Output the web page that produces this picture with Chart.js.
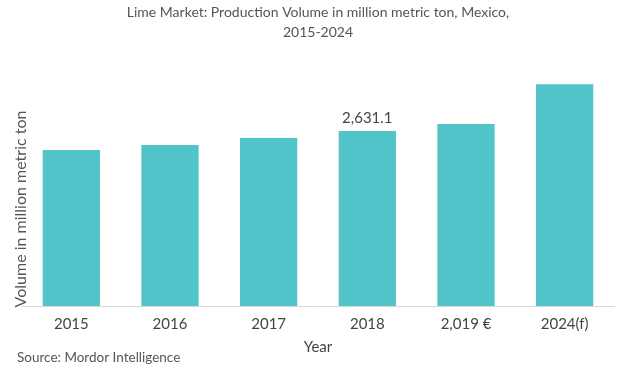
<!DOCTYPE html>
<html><head><meta charset="utf-8">
<script src="https://cdn.jsdelivr.net/npm/chart.js@4/dist/chart.umd.min.js"></script>
<style>html,body{margin:0;padding:0;background:#fff}#wrap{width:629px;height:385px;position:relative}</style>
</head><body><div id="wrap"><canvas id="c"></canvas></div>
<script>
const categories = ["2015", "2016", "2017", "2018", "2,019 €", "2024(f)"];
const volumes = [2347, 2422, 2527, 2631.1, 2736, 3334];
const labelledIndex = 3;
const labelText = "2,631.1";
const titleLines = ["Lime Market: Production Volume in million metric ton, Mexico,", "2015-2024"];
const yTitle = "Volume in million metric ton";
const xTitle = "Year";
const sourceText = "Source: Mordor Intelligence";

const FONT = "Lato, 'Open Sans', sans-serif";
const extras = {
  id: 'extras',
  afterDraw(chart) {
    const ctx = chart.ctx;
    const meta = chart.getDatasetMeta(0);
    const bar = meta.data[labelledIndex];
    const area = chart.chartArea;
    ctx.save();
    ctx.fillStyle = '#444';
    ctx.font = "15px " + FONT;
    ctx.textAlign = 'center';
    ctx.textBaseline = 'bottom';
    ctx.fillText(labelText, bar.x, bar.y - 5);
    ctx.textBaseline = 'middle';
    ctx.fillText(xTitle, (area.left + area.right) / 2, 347);
    ctx.translate(21, 209);
    ctx.rotate(-Math.PI / 2);
    ctx.fillStyle = '#555';
    ctx.font = "16px " + FONT;
    ctx.fillText(yTitle, 0, 0);
    ctx.restore();
    ctx.save();
    ctx.fillStyle = '#555';
    ctx.font = "13.5px " + FONT;
    ctx.textAlign = 'left';
    ctx.textBaseline = 'middle';
    ctx.fillText(sourceText, 17, 358);
    ctx.restore();
  }
};

new Chart(document.getElementById('c'), {
  type: 'bar',
  data: { labels: categories, datasets: [{ data: volumes, backgroundColor: '#50c4c8', barPercentage: 0.58, categoryPercentage: 1 }] },
  options: {
    responsive: true, maintainAspectRatio: false, animation: false,
    layout: { padding: { left: 22, right: 15, top: 0, bottom: 43 } },
    plugins: {
      legend: { display: false }, tooltip: { enabled: false },
      title: { display: true, text: titleLines, color: '#555', font: { family: FONT, size: 14, weight: 'normal', lineHeight: 1.45 }, padding: { top: 2, bottom: 24 } }
    },
    scales: {
      x: {
        grid: { display: false, drawTicks: false },
        border: { display: true, color: '#d9d9d9' },
        ticks: { color: '#444', font: { family: FONT, size: 15 }, padding: 9 }
      },
      y: {
        display: false, min: 0, max: 3600
      }
    }
  },
  plugins: [extras]
});
</script></body></html>
